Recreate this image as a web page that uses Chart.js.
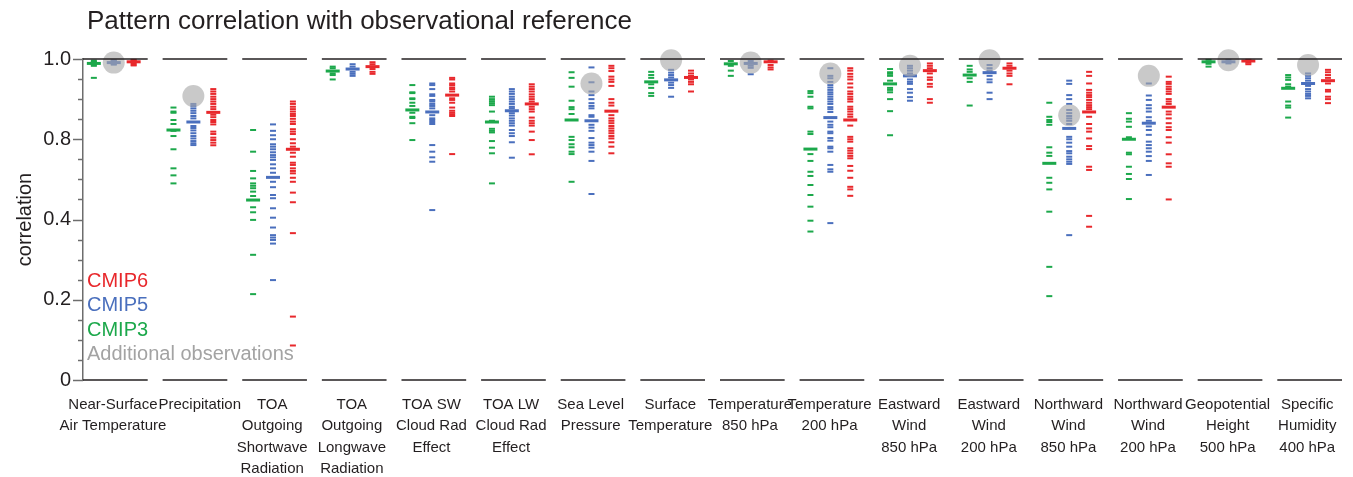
<!DOCTYPE html>
<html>
<head>
<meta charset="utf-8">
<title>Pattern correlation with observational reference</title>
<script src="https://cdn.jsdelivr.net/npm/chart.js@4.4.1/dist/chart.umd.min.js"></script>
<style>
  html, body { margin: 0; padding: 0; background: #fff; }
  #wrap { width: 1353px; height: 477px; }
</style>
</head>
<body>
<div id="wrap"><canvas id="chart"></canvas></div>
<script>
// categories (multi-line labels)
const categories = [
  ['Near-Surface', 'Air Temperature'],
  ['Precipitation'],
  ['TOA', 'Outgoing', 'Shortwave', 'Radiation'],
  ['TOA', 'Outgoing', 'Longwave', 'Radiation'],
  ['TOA SW', 'Cloud Rad', 'Effect'],
  ['TOA LW', 'Cloud Rad', 'Effect'],
  ['Sea Level', 'Pressure'],
  ['Surface', 'Temperature'],
  ['Temperature', '850 hPa'],
  ['Temperature', '200 hPa'],
  ['Eastward', 'Wind', '850 hPa'],
  ['Eastward', 'Wind', '200 hPa'],
  ['Northward', 'Wind', '850 hPa'],
  ['Northward', 'Wind', '200 hPa'],
  ['Geopotential', 'Height', '500 hPa'],
  ['Specific', 'Humidity', '400 hPa']
];

// axis is evenly spaced between these labelled values
const yTickValues = [0, 0.2, 0.4, 0.8, 1.0];
const yTickLabels = ['0', '0.2', '0.4', '0.8', '1.0'];

// individual models, one list per category
const cmip3Models = [
  [0.996, 0.993, 0.991, 0.988, 0.986, 0.983, 0.953],
  [0.879, 0.869, 0.866, 0.848, 0.838, 0.821, 0.808, 0.750, 0.655, 0.620, 0.580],
  [0.823, 0.738, 0.642, 0.605, 0.580, 0.568, 0.556, 0.539, 0.517, 0.461, 0.436, 0.399, 0.312, 0.214],
  [0.981, 0.977, 0.970, 0.964, 0.960, 0.949],
  [0.935, 0.917, 0.915, 0.902, 0.900, 0.891, 0.883, 0.866, 0.856, 0.853, 0.840, 0.796],
  [0.906, 0.900, 0.895, 0.890, 0.885, 0.869, 0.846, 0.826, 0.821, 0.817, 0.791, 0.758, 0.730, 0.580],
  [0.967, 0.953, 0.931, 0.896, 0.880, 0.875, 0.863, 0.806, 0.796, 0.775, 0.760, 0.738, 0.726, 0.588],
  [0.968, 0.960, 0.953, 0.937, 0.928, 0.915, 0.908],
  [0.995, 0.983, 0.971, 0.958],
  [0.920, 0.915, 0.906, 0.881, 0.877, 0.819, 0.813, 0.726, 0.692, 0.638, 0.617, 0.572, 0.522, 0.464, 0.397, 0.370],
  [0.975, 0.967, 0.963, 0.958, 0.946, 0.928, 0.923, 0.917, 0.900, 0.870, 0.810],
  [0.983, 0.974, 0.968, 0.952, 0.943, 0.884],
  [0.891, 0.856, 0.848, 0.843, 0.836, 0.760, 0.733, 0.717, 0.608, 0.583, 0.550, 0.439, 0.282, 0.209],
  [0.865, 0.851, 0.844, 0.831, 0.805, 0.733, 0.725, 0.663, 0.627, 0.602, 0.502],
  [0.998, 0.988, 0.981],
  [0.960, 0.954, 0.948, 0.937, 0.931, 0.894, 0.884, 0.879, 0.854]
];
const cmip3Median = [0.989, 0.823, 0.497, 0.970, 0.873, 0.843, 0.848, 0.943, 0.988, 0.751, 0.938, 0.960, 0.680, 0.800, 0.993, 0.927];

const cmip5Models = [
  [0.997, 0.995, 0.993, 0.990, 0.988, 0.986],
  [0.888, 0.883, 0.877, 0.871, 0.865, 0.858, 0.852, 0.833, 0.828, 0.822, 0.815, 0.808, 0.802, 0.791, 0.780, 0.771],
  [0.837, 0.821, 0.810, 0.800, 0.775, 0.763, 0.750, 0.735, 0.721, 0.710, 0.697, 0.675, 0.655, 0.633, 0.588, 0.561, 0.522, 0.506, 0.456, 0.409, 0.380, 0.361, 0.355, 0.349, 0.340, 0.249],
  [0.987, 0.981, 0.968, 0.963, 0.958],
  [0.939, 0.935, 0.925, 0.912, 0.908, 0.898, 0.894, 0.888, 0.883, 0.877, 0.860, 0.852, 0.848, 0.843, 0.838, 0.771, 0.738, 0.710, 0.688, 0.447],
  [0.925, 0.919, 0.913, 0.906, 0.900, 0.894, 0.888, 0.881, 0.877, 0.865, 0.859, 0.852, 0.846, 0.840, 0.834, 0.823, 0.815, 0.808, 0.785, 0.708],
  [0.979, 0.942, 0.919, 0.910, 0.900, 0.890, 0.883, 0.877, 0.860, 0.856, 0.836, 0.829, 0.821, 0.803, 0.783, 0.771, 0.758, 0.738, 0.692, 0.527],
  [0.973, 0.966, 0.960, 0.954, 0.941, 0.935, 0.928, 0.906],
  [0.995, 0.983, 0.978, 0.962],
  [0.977, 0.958, 0.952, 0.943, 0.935, 0.929, 0.923, 0.917, 0.912, 0.906, 0.900, 0.894, 0.888, 0.880, 0.875, 0.868, 0.844, 0.836, 0.830, 0.819, 0.815, 0.803, 0.793, 0.763, 0.755, 0.738, 0.672, 0.650, 0.638, 0.391],
  [0.983, 0.977, 0.971, 0.964, 0.949, 0.943, 0.938, 0.925, 0.916, 0.905, 0.896],
  [0.985, 0.977, 0.971, 0.958, 0.949, 0.942, 0.916, 0.900],
  [0.946, 0.938, 0.910, 0.900, 0.888, 0.873, 0.865, 0.858, 0.852, 0.846, 0.838, 0.806, 0.800, 0.783, 0.763, 0.741, 0.730, 0.713, 0.700, 0.688, 0.677, 0.361],
  [0.939, 0.909, 0.898, 0.885, 0.877, 0.869, 0.855, 0.846, 0.832, 0.823, 0.811, 0.788, 0.771, 0.755, 0.738, 0.716, 0.692, 0.622],
  [0.998, 0.989],
  [0.964, 0.958, 0.952, 0.946, 0.933, 0.925, 0.919, 0.913, 0.908, 0.902]
];
const cmip5Median = [0.991, 0.843, 0.610, 0.975, 0.868, 0.871, 0.846, 0.948, 0.989, 0.854, 0.958, 0.966, 0.827, 0.840, 0.993, 0.939];

const cmip6Models = [
  [0.998, 0.996, 0.993, 0.990, 0.986, 0.984],
  [0.925, 0.919, 0.913, 0.906, 0.900, 0.894, 0.888, 0.881, 0.875, 0.861, 0.855, 0.848, 0.843, 0.837, 0.819, 0.813, 0.804, 0.796, 0.783, 0.770],
  [0.894, 0.888, 0.881, 0.875, 0.869, 0.863, 0.858, 0.851, 0.844, 0.838, 0.825, 0.819, 0.813, 0.800, 0.780, 0.763, 0.733, 0.713, 0.683, 0.672, 0.655, 0.642, 0.630, 0.608, 0.588, 0.534, 0.486, 0.366, 0.158, 0.086],
  [0.992, 0.987, 0.975, 0.968, 0.963],
  [0.953, 0.949, 0.939, 0.935, 0.929, 0.925, 0.919, 0.902, 0.898, 0.891, 0.879, 0.871, 0.866, 0.862, 0.858, 0.726],
  [0.937, 0.931, 0.925, 0.919, 0.912, 0.906, 0.900, 0.894, 0.881, 0.875, 0.869, 0.854, 0.846, 0.840, 0.834, 0.819, 0.796, 0.725],
  [0.983, 0.977, 0.970, 0.956, 0.949, 0.943, 0.933, 0.900, 0.891, 0.884, 0.860, 0.852, 0.846, 0.840, 0.833, 0.827, 0.821, 0.815, 0.808, 0.802, 0.785, 0.763, 0.730],
  [0.971, 0.964, 0.958, 0.949, 0.943, 0.937, 0.919],
  [0.996, 0.985, 0.979, 0.974],
  [0.977, 0.971, 0.963, 0.956, 0.949, 0.939, 0.929, 0.919, 0.913, 0.906, 0.900, 0.894, 0.881, 0.875, 0.869, 0.862, 0.856, 0.834, 0.806, 0.800, 0.788, 0.755, 0.743, 0.730, 0.717, 0.705, 0.667, 0.643, 0.608, 0.563, 0.550, 0.518],
  [0.989, 0.983, 0.977, 0.964, 0.954, 0.948, 0.938, 0.931, 0.900, 0.891],
  [0.989, 0.983, 0.971, 0.964, 0.958, 0.937],
  [0.968, 0.958, 0.939, 0.923, 0.916, 0.910, 0.905, 0.898, 0.891, 0.885, 0.880, 0.875, 0.856, 0.838, 0.827, 0.819, 0.802, 0.766, 0.751, 0.663, 0.647, 0.418, 0.382],
  [0.956, 0.943, 0.938, 0.931, 0.925, 0.919, 0.913, 0.900, 0.894, 0.888, 0.869, 0.862, 0.852, 0.840, 0.830, 0.823, 0.805, 0.783, 0.725, 0.680, 0.663, 0.500],
  [0.998, 0.991, 0.987],
  [0.973, 0.967, 0.960, 0.953, 0.939, 0.923, 0.919, 0.906, 0.900, 0.890]
];
const cmip6Median = [0.993, 0.867, 0.750, 0.981, 0.910, 0.888, 0.870, 0.954, 0.993, 0.848, 0.971, 0.977, 0.868, 0.880, 0.995, 0.946];

// additional observational data sets (null = none)
const observations = [0.991, 0.908, null, null, null, null, 0.939, 0.997, 0.991, 0.964, 0.983, 0.997, 0.860, 0.958, 0.997, 0.985];

const FONT = "'Liberation Sans', Arial, Helvetica, sans-serif";
const colors = { cmip3: '#1ca84b', cmip5: '#4a6fbd', cmip6: '#e8282c', obs: 'rgba(168,168,168,0.62)', obsText: '#a3a3a3' };
const offsets = { cmip3: -0.27, cmip5: -0.02, cmip6: 0.23 };
const HALF_SPAN = 0.40625;

// correlation -> evenly spaced axis position
function toAxis(r) {
    const n = yTickValues.length - 1;
    for (let k = 1; k <= n; k++) {
        if (r <= yTickValues[k]) {
            const f = (r - yTickValues[k - 1]) / (yTickValues[k] - yTickValues[k - 1]);
            return (k - 1 + f) / n;
        }
    }
    return 1;
}

const modelPoints = (lists, off) => lists.flatMap((vals, i) => vals.map(v => ({ x: i + off, y: toAxis(v) })));
const medianPoints = (vals, off) => vals.map((v, i) => ({ x: i + off, y: toAxis(v) }));

function dashSet(label, data, color, radius, width) {
    return {
        label, data,
        pointStyle: 'line', pointRadius: radius, pointHoverRadius: radius,
        pointBorderColor: color, pointBackgroundColor: color, pointBorderWidth: width,
        borderColor: color, showLine: false, clip: false
    };
}

const datasets = [
    {
        label: 'Additional observations',
        data: observations.map((v, i) => v === null ? null : { x: i + offsets.cmip5, y: toAxis(v) }).filter(Boolean),
        pointStyle: 'circle', pointRadius: 11, pointBackgroundColor: colors.obs, pointBorderWidth: 0,
        showLine: false, clip: false
    },
    dashSet('CMIP6 median', medianPoints(cmip6Median, offsets.cmip6), colors.cmip6, 7, 3),
    dashSet('CMIP5 median', medianPoints(cmip5Median, offsets.cmip5), colors.cmip5, 7, 3),
    dashSet('CMIP3 median', medianPoints(cmip3Median, offsets.cmip3), colors.cmip3, 7, 3),
    dashSet('CMIP6', modelPoints(cmip6Models, offsets.cmip6), colors.cmip6, 3, 2),
    dashSet('CMIP5', modelPoints(cmip5Models, offsets.cmip5), colors.cmip5, 3, 2),
    dashSet('CMIP3', modelPoints(cmip3Models, offsets.cmip3), colors.cmip3, 3, 2)
];

const legendItems = [
    ['CMIP6', colors.cmip6], ['CMIP5', colors.cmip5], ['CMIP3', colors.cmip3], ['Additional observations', colors.obsText]
];

const decor = {
    id: 'decor',
    beforeDatasetsDraw(chart) {
        const { ctx, chartArea, scales: { y } } = chart;
        ctx.save();
        ctx.strokeStyle = '#6d6d6d';
        ctx.lineWidth = 1.5;
        const steps = (yTickValues.length - 1) * 4;
        for (let k = 0; k <= steps; k++) {
            const py = Math.round(y.getPixelForValue(k / steps)) + 0.5;
            const len = k % 4 === 0 ? 10 : 5;
            ctx.beginPath();
            ctx.moveTo(chartArea.left - len, py);
            ctx.lineTo(chartArea.left, py);
            ctx.stroke();
        }
        ctx.restore();
    },
    afterDatasetsDraw(chart) {
        const { ctx, chartArea, scales: { x } } = chart;
        ctx.save();
        ctx.strokeStyle = '#231f20';
        ctx.lineWidth = 1.5;
        categories.forEach((c, i) => {
            const x0 = x.getPixelForValue(i - HALF_SPAN);
            const x1 = x.getPixelForValue(i + HALF_SPAN);
            [chartArea.top, chartArea.bottom].forEach(py => {
                ctx.beginPath();
                ctx.moveTo(x0, py);
                ctx.lineTo(x1, py);
                ctx.stroke();
            });
        });
        ctx.restore();
    },
    afterDraw(chart) {
        const { ctx } = chart;
        ctx.save();
        ctx.textBaseline = 'middle';
        ctx.textAlign = 'left';
        ctx.fillStyle = '#231f20';
        ctx.font = '26px ' + FONT;
        ctx.fillText('Pattern correlation with observational reference', 87, 22);
        ctx.font = '20px ' + FONT;
        legendItems.forEach(([text, color], k) => {
            ctx.fillStyle = color;
            ctx.fillText(text, 87, 281 + k * 24.5);
        });
        ctx.restore();
    }
};

new Chart(document.getElementById('chart'), {
    type: 'scatter',
    data: { datasets },
    plugins: [decor],
    options: {
        responsive: true,
        maintainAspectRatio: false,
        animation: false,
        events: [],
        layout: { padding: { top: 59, right: 5, left: 0, bottom: 0 } },
        plugins: { legend: { display: false }, tooltip: { enabled: false }, title: { display: false } },
        scales: {
            x: {
                type: 'linear',
                min: -HALF_SPAN,
                max: categories.length - 1 + HALF_SPAN,
                grid: { display: false, drawTicks: false },
                border: { display: false },
                afterFit: s => { s.height = 97; },
                afterBuildTicks: s => { s.ticks = categories.map((c, i) => ({ value: i + (i === 1 ? 0.06 : -0.03) })); },
                ticks: {
                    autoSkip: false, maxRotation: 0, minRotation: 0, padding: 14,
                    color: '#231f20', font: { family: FONT, size: 15, lineHeight: 1.43 },
                    callback: (v, idx) => categories[idx]
                }
            },
            y: {
                type: 'linear',
                min: 0,
                max: 1,
                grid: { display: false, drawTicks: false },
                border: { display: true, color: '#6d6d6d', width: 1.5 },
                afterFit: s => { s.width = 83; },
                afterBuildTicks: s => { s.ticks = yTickValues.map((v, k) => ({ value: k / (yTickValues.length - 1) })); },
                ticks: {
                    padding: 12, color: '#231f20', font: { family: FONT, size: 20 },
                    callback: (v, idx) => yTickLabels[idx]
                },
                title: {
                    display: true, text: 'correlation', color: '#231f20',
                    font: { family: FONT, size: 20 }, padding: { top: 13, bottom: 0 }
                }
            }
        }
    }
});
</script>
</body>
</html>
